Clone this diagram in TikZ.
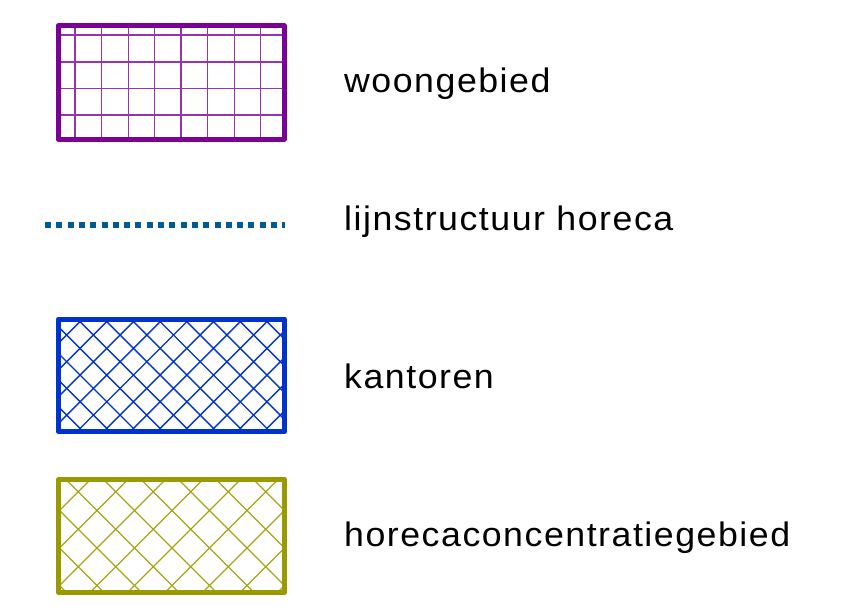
\documentclass[tikz,border=0pt]{standalone}
\usepackage{fontspec}
\newfontfamily\lgfont[LetterSpace=4.5,FakeStretch=1.05]{Liberation Sans}
\definecolor{wpurple}{RGB}{122,0,150}
\definecolor{wpurplelt}{RGB}{150,50,180}
\definecolor{kblue}{RGB}{0,51,204}
\definecolor{hblue}{RGB}{0,90,150}
\definecolor{holive}{RGB}{153,153,0}
\definecolor{holivelt}{RGB}{165,165,20}
\begin{document}
\begin{tikzpicture}[x=1pt,y=-1pt,
  frame/.style={line width=5pt,line join=round},
  hatch/.style={line width=1.4pt},
  legtext/.style={anchor=base west,inner sep=0pt,font=\lgfont\fontsize{34}{40}\selectfont}]
\useasboundingbox (0,0) rectangle (860,606);
% woongebied
\coordinate (w1) at (58.2,25.8);
\coordinate (w2) at (284.2,139.2);
\begin{scope}
  \clip (w1) rectangle (w2);
  \foreach \xx in {75,101.7,128.3,154.3,181,207.7,234.3,260.7}
    \draw[hatch,wpurplelt] (\xx,20) -- (\xx,145);
  \foreach \yy in {35,62,88.3,115}
    \draw[hatch,wpurplelt] (50,\yy) -- (290,\yy);
\end{scope}
\draw[frame,wpurple] (w1) rectangle (w2);
\node[legtext] (tw) at (344,92.7) {woongebied};
% lijnstructuur horeca
\coordinate (l1) at (45,224.7);
\coordinate (l2) at (285,224.7);
\draw[hblue,line width=6pt,dash pattern=on 6pt off 5.3pt] (l1) -- (l2);
\node[legtext] (tl) at (344,230) {lijnstructuur horeca};
% kantoren
\coordinate (k1) at (58.3,319);
\coordinate (k2) at (284.7,431.7);
\begin{scope}
  \clip (k1) rectangle (k2);
  \foreach \k in {-2,...,13}{
    \pgfmathsetmacro\c{401.7+26.7*\k}
    \draw[hatch,kblue] ({\c-300},300) -- ({\c-450},450);
  }
  \foreach \k in {-5,...,10}{
    \pgfmathsetmacro\d{-268.3+26.7*\k}
    \draw[hatch,kblue] ({300+\d},300) -- ({450+\d},450);
  }
\end{scope}
\draw[frame,kblue] (k1) rectangle (k2);
\node[legtext] (tk) at (344,388) {kantoren};
% horecaconcentratiegebied
\coordinate (h1) at (58.5,479.2);
\coordinate (h2) at (284.5,592.5);
\begin{scope}
  \clip (h1) rectangle (h2);
  \foreach \k in {-2,...,10}{
    \pgfmathsetmacro\c{570+37.5*\k}
    \draw[hatch,holivelt,line width=1.2pt] ({\c-460},460) -- ({\c-610},610);
  }
  \foreach \k in {-5,...,7}{
    \pgfmathsetmacro\d{-413.4+37.5*\k}
    \draw[hatch,holivelt,line width=1.2pt] ({460+\d},460) -- ({610+\d},610);
  }
\end{scope}
\draw[frame,holive] (h1) rectangle (h2);
\node[legtext] (th) at (344,546.7) {horecaconcentratiegebied};
\end{tikzpicture}
\end{document}
